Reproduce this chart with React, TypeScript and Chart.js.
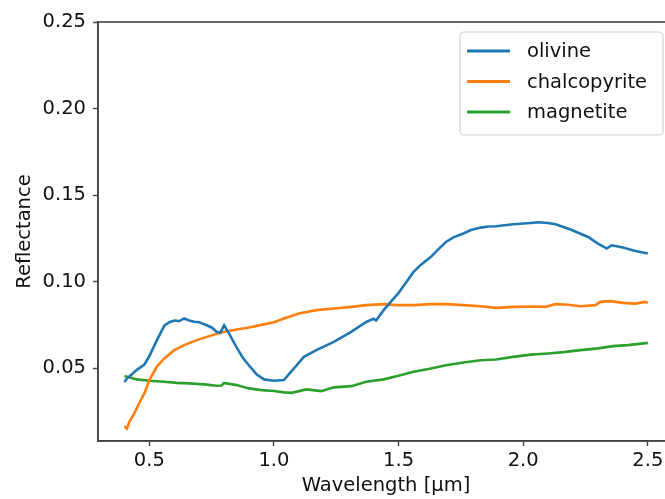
import React, { useEffect, useRef } from "react";
import { Chart, registerables } from "chart.js";

Chart.register(...registerables);

// ---- data ----
const olivineWl = [0.40, 0.41, 0.43, 0.45, 0.48, 0.50, 0.53, 0.56, 0.58, 0.60, 0.62, 0.64, 0.66, 0.68, 0.70, 0.73, 0.75, 0.77, 0.785, 0.80, 0.82, 0.85, 0.875, 0.90, 0.93, 0.96, 1.00, 1.04, 1.06, 1.08, 1.12, 1.17, 1.24, 1.31, 1.37, 1.40, 1.41, 1.44, 1.50, 1.53, 1.56, 1.59, 1.63, 1.66, 1.69, 1.72, 1.76, 1.79, 1.83, 1.86, 1.89, 1.96, 2.03, 2.06, 2.10, 2.13, 2.19, 2.26, 2.30, 2.335, 2.355, 2.40, 2.45, 2.50];
const olivineR = [0.042, 0.044, 0.0465, 0.049, 0.052, 0.057, 0.066, 0.0745, 0.0765, 0.0775, 0.0772, 0.0787, 0.0775, 0.0768, 0.0765, 0.0748, 0.0735, 0.071, 0.0705, 0.0748, 0.070, 0.062, 0.056, 0.0515, 0.0465, 0.0435, 0.0427, 0.0431, 0.0465, 0.0498, 0.0565, 0.0604, 0.0652, 0.071, 0.0767, 0.0785, 0.0775, 0.0835, 0.0935, 0.0995, 0.1056, 0.1098, 0.1143, 0.1188, 0.1229, 0.1256, 0.1278, 0.1298, 0.1312, 0.1318, 0.132, 0.1331, 0.1339, 0.1343, 0.1339, 0.1331, 0.1301, 0.1258, 0.122, 0.1191, 0.121, 0.1197, 0.1177, 0.1162];

const chalcopyriteWl = [0.40, 0.41, 0.42, 0.44, 0.46, 0.48, 0.50, 0.53, 0.56, 0.60, 0.64, 0.69, 0.74, 0.80, 0.85, 0.90, 0.95, 1.00, 1.04, 1.10, 1.17, 1.24, 1.31, 1.37, 1.44, 1.49, 1.56, 1.63, 1.69, 1.76, 1.83, 1.89, 1.96, 2.03, 2.09, 2.13, 2.18, 2.23, 2.29, 2.31, 2.35, 2.40, 2.45, 2.49, 2.50];
const chalcopyriteR = [0.0165, 0.015, 0.019, 0.024, 0.030, 0.0354, 0.0431, 0.0508, 0.0556, 0.0604, 0.0633, 0.0662, 0.0685, 0.071, 0.0723, 0.0735, 0.075, 0.0765, 0.0787, 0.0816, 0.0835, 0.0845, 0.0854, 0.0864, 0.087, 0.0864, 0.0864, 0.087, 0.087, 0.0864, 0.0858, 0.0848, 0.0854, 0.0856, 0.0854, 0.087, 0.0866, 0.0858, 0.0864, 0.0883, 0.0887, 0.0877, 0.0873, 0.0883, 0.0877];

const magnetiteWl = [0.40, 0.45, 0.50, 0.56, 0.61, 0.66, 0.72, 0.77, 0.79, 0.80, 0.85, 0.90, 0.95, 1.00, 1.04, 1.07, 1.13, 1.19, 1.24, 1.31, 1.37, 1.44, 1.50, 1.56, 1.63, 1.69, 1.76, 1.83, 1.89, 1.96, 2.03, 2.10, 2.17, 2.23, 2.30, 2.36, 2.42, 2.50];
const magnetiteR = [0.0454, 0.0435, 0.0427, 0.0421, 0.0415, 0.0412, 0.0406, 0.0398, 0.040, 0.0415, 0.0402, 0.0383, 0.0373, 0.0368, 0.036, 0.0357, 0.0377, 0.0367, 0.0389, 0.0396, 0.0421, 0.0435, 0.0456, 0.0479, 0.0498, 0.0517, 0.0533, 0.0546, 0.055, 0.0565, 0.0578, 0.0585, 0.0594, 0.0604, 0.0614, 0.0627, 0.0633, 0.0646];

const seriesNames = ["olivine", "chalcopyrite", "magnetite"];
const seriesColors = ["#1f77b4", "#ff7f0e", "#2ca02c"];

const xTicks = [0.5, 1.0, 1.5, 2.0, 2.5];
const yTicks = [0.05, 0.10, 0.15, 0.20, 0.25];
const xRange = [0.294, 2.605];
const yRange = [0.0079, 0.25];

const FONT = "'DejaVu Sans', sans-serif";
const FS = 19.5;

const toPoints = (xs: number[], ys: number[]) => xs.map((x, i) => ({ x, y: ys[i] }));

const framePlugin = {
  id: "frame",
  beforeDatasetsDraw(chart: any) {
    const { ctx, chartArea } = chart;
    ctx.save();
    ctx.strokeStyle = "#444";
    ctx.lineWidth = 1.6;
    ctx.strokeRect(chartArea.left, chartArea.top, chartArea.right - chartArea.left, chartArea.bottom - chartArea.top);
    ctx.restore();
  },
};

const legendPlugin = {
  id: "mplLegend",
  afterDatasetsDraw(chart: any) {
    const { ctx, chartArea } = chart;
    const right = chartArea.right - 11;
    const left = right - 203;
    const top = chartArea.top + 10;
    const h = 103;
    ctx.save();
    ctx.beginPath();
    if ((ctx as any).roundRect) (ctx as any).roundRect(left, top, right - left, h, 4);
    else ctx.rect(left, top, right - left, h);
    ctx.fillStyle = "rgba(255,255,255,0.8)";
    ctx.fill();
    ctx.strokeStyle = "#d0d0d0";
    ctx.lineWidth = 1.2;
    ctx.stroke();
    ctx.font = `${FS}px ${FONT}`;
    ctx.textBaseline = "middle";
    ctx.textAlign = "left";
    chart.data.datasets.forEach((ds: any, i: number) => {
      const y = top + 19 + i * 30.5;
      ctx.strokeStyle = ds.borderColor;
      ctx.lineWidth = 2.8;
      ctx.beginPath();
      ctx.moveTo(left + 7, y);
      ctx.lineTo(left + 50, y);
      ctx.stroke();
      ctx.fillStyle = "#111";
      ctx.fillText(ds.label, left + 67, y + 1);
    });
    ctx.restore();
  },
};

export default function App() {
  const ref = useRef<HTMLCanvasElement | null>(null);
  useEffect(() => {
    if (!ref.current) return;
    const datasets = [
      toPoints(olivineWl, olivineR),
      toPoints(chalcopyriteWl, chalcopyriteR),
      toPoints(magnetiteWl, magnetiteR),
    ].map((data, i) => ({
      label: seriesNames[i],
      data,
      borderColor: seriesColors[i],
      backgroundColor: seriesColors[i],
      borderWidth: 2.6,
      pointRadius: 0,
      tension: 0,
      fill: false,
    }));
    const chart = new Chart(ref.current, {
      type: "line",
      data: { datasets },
      options: {
        animation: false,
        responsive: false,
        devicePixelRatio: 1,
        parsing: true,
        layout: { padding: { top: 22, right: 26, left: 0, bottom: 0 } },
        plugins: { legend: { display: false }, tooltip: { enabled: false } },
        scales: {
          x: {
            type: "linear",
            position: "bottom",
            min: xRange[0],
            max: xRange[1],
            afterBuildTicks: (s: any) => {
              s.ticks = xTicks.map((v) => ({ value: v }));
            },
            afterFit: (s: any) => {
              s.height = 58;
            },
            grid: { drawOnChartArea: false, tickLength: 5, color: "#444", tickWidth: 1.4 },
            border: { color: "#444", width: 1.6 },
            ticks: {
              color: "#111",
              padding: 3,
              maxRotation: 0,
              font: { family: FONT, size: FS },
              callback: (v: any) => Number(v).toFixed(1),
            },
            title: {
              display: true,
              text: "Wavelength [µm]",
              color: "#111",
              font: { family: FONT, size: FS },
              padding: { top: 0, bottom: 1 },
            },
          },
          y: {
            type: "linear",
            min: yRange[0],
            max: yRange[1],
            afterBuildTicks: (s: any) => {
              s.ticks = yTicks.map((v) => ({ value: v }));
            },
            afterFit: (s: any) => {
              s.width = 98;
            },
            grid: { drawOnChartArea: false, tickLength: 5, color: "#444", tickWidth: 1.4 },
            border: { color: "#444", width: 1.6 },
            ticks: {
              color: "#111",
              padding: 7,
              font: { family: FONT, size: FS },
              callback: (v: any) => Number(v).toFixed(2),
            },
            title: {
              display: true,
              text: "Reflectance",
              color: "#111",
              font: { family: FONT, size: FS },
              padding: { top: 13, bottom: 0 },
            },
          },
        },
      },
      plugins: [framePlugin, legendPlugin],
    } as any);
    return () => chart.destroy();
  }, []);
  return (
    <div style={{ position: "fixed", left: 0, top: 0, width: 665, height: 499, overflow: "hidden", background: "#fff" }}>
      <canvas ref={ref} width={700} height={499} style={{ display: "block", width: 700, height: 499 }} />
    </div>
  );
}
